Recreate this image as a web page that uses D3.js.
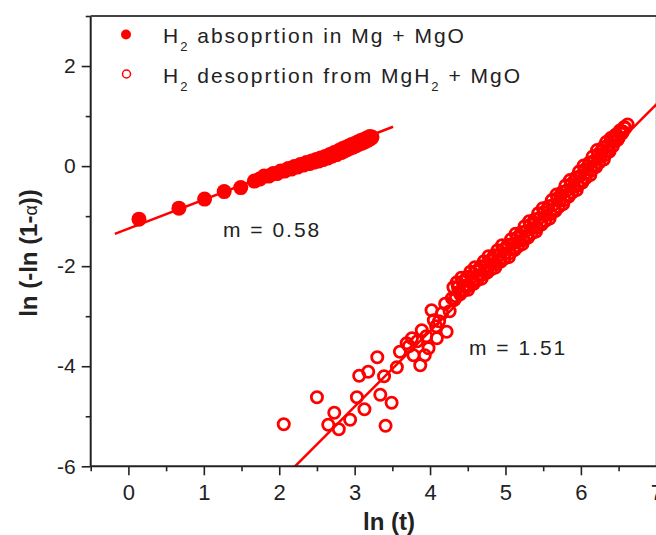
<!DOCTYPE html>
<html>
<head>
<meta charset="utf-8">
<script src="https://cdn.jsdelivr.net/npm/d3@7/dist/d3.min.js"></script>
<style>
  html, body { margin: 0; padding: 0; background: #fff; overflow: hidden; }
  svg { display: block; }
  text { font-family: "Liberation Sans", Arial, sans-serif; fill: #222; }
</style>
</head>
<body>
<svg id="chart" width="656" height="535"></svg>
<script>
// Absorption in Mg + MgO: ln(t) vs ln(-ln(1-alpha))
const absorbLnT = [0.14, 0.67, 1.01, 1.27, 1.49, 1.67, 1.74, 1.80, 1.86, 1.92, 1.97, 2.02, 2.07, 2.12, 2.16,
  2.20, 2.24, 2.28, 2.32, 2.36, 2.40, 2.43, 2.46, 2.49, 2.52, 2.55, 2.58, 2.61, 2.64, 2.67, 2.70, 2.73,
  2.76, 2.79, 2.82, 2.84, 2.86, 2.88, 2.90, 2.92, 2.94, 2.96, 2.98, 3.00, 3.02, 3.04, 3.06, 3.08, 3.10,
  3.12, 3.14, 3.16, 3.18, 3.20, 3.22, 3.23];
const absorbY = [-1.06, -0.84, -0.66, -0.51, -0.43, -0.30, -0.26, -0.20, -0.20, -0.15, -0.15, -0.10, -0.10, -0.05, -0.06,
  -0.01, -0.02, 0.03, 0.02, 0.07, 0.05, 0.10, 0.08, 0.13, 0.10, 0.16, 0.13, 0.19, 0.16, 0.23, 0.20, 0.27,
  0.23, 0.31, 0.27, 0.35, 0.30, 0.37, 0.33, 0.40, 0.36, 0.43, 0.38, 0.45, 0.41, 0.48, 0.44, 0.51, 0.46,
  0.53, 0.49, 0.56, 0.52, 0.59, 0.56, 0.58];

// Desorption from MgH2 + MgO
const desorbLnT = [2.06, 2.50, 2.65, 2.73, 2.79, 2.94, 3.03, 3.06, 3.13, 3.18, 3.30, 3.34, 3.39, 3.41, 3.49,
  3.56, 3.60, 3.69, 3.72, 3.76, 3.78, 3.83, 3.87, 3.89, 3.93, 3.95, 3.98, 4.02, 4.05, 4.08, 4.09, 4.12,
  4.16, 4.20, 4.22, 4.26, 4.29,
  4.31, 4.34, 4.37, 4.40, 4.43, 4.46, 4.49, 4.52, 4.55, 4.58, 4.61, 4.64, 4.67, 4.70, 4.73, 4.76, 4.79,
  4.82, 4.85, 4.88, 4.91, 4.94, 4.97, 5.00, 5.03, 5.06, 5.09, 5.12, 5.15, 5.18, 5.21, 5.24, 5.27, 5.30,
  5.33, 5.36, 5.39, 5.42, 5.45, 5.48, 5.51, 5.54, 5.57, 5.60, 5.63, 5.66, 5.69, 5.72, 5.75, 5.78, 5.81,
  5.84, 5.87, 5.90, 5.93, 5.96, 5.99, 6.02, 6.05, 6.08, 6.11, 6.14, 6.17, 6.20, 6.23, 6.26, 6.29, 6.32,
  6.35, 6.38, 6.41, 6.44, 6.47, 6.50, 6.53, 6.56, 6.59, 6.62,
  4.325, 4.355, 4.385, 4.415, 4.445, 4.475, 4.505, 4.535, 4.565, 4.595, 4.625, 4.655, 4.685, 4.715, 4.745,
  4.775, 4.805, 4.835, 4.865, 4.895, 4.925, 4.955, 4.985, 5.015, 5.045, 5.075, 5.105, 5.135, 5.165, 5.195,
  5.225, 5.255, 5.285, 5.315, 5.345, 5.375, 5.405, 5.435, 5.465, 5.495, 5.525, 5.555, 5.585, 5.615, 5.645,
  5.675, 5.705, 5.735, 5.765, 5.795, 5.825, 5.855, 5.885, 5.915, 5.945, 5.975, 6.005, 6.035, 6.065, 6.095,
  6.125, 6.155, 6.185, 6.215, 6.245, 6.275, 6.305, 6.335, 6.365, 6.395, 6.425, 6.455, 6.485, 6.515, 6.545,
  6.575];
const desorbY = [-5.16, -4.62, -5.17, -4.93, -5.26, -5.07, -4.62, -4.19, -4.86, -4.11, -3.82, -4.57, -4.20, -5.19, -4.73,
  -4.02, -3.71, -3.54, -3.60, -3.44, -3.78, -3.50, -3.98, -3.28, -3.78, -3.40, -3.64, -2.88, -3.08, -3.20, -3.44, -3.10,
  -2.94, -2.75, -3.31, -2.90, -2.64,
  -2.42, -2.60, -2.42, -2.56, -2.31, -2.39, -2.21, -2.39, -2.22, -2.35, -2.10, -2.18, -2.00, -2.17, -2.00, -2.13, -1.89,
  -1.96, -1.78, -1.96, -1.78, -1.91, -1.67, -1.74, -1.57, -1.74, -1.56, -1.68, -1.43, -1.50, -1.32, -1.48, -1.30, -1.43,
  -1.17, -1.24, -1.06, -1.23, -1.04, -1.17, -0.92, -0.98, -0.80, -0.96, -0.78, -0.90, -0.64, -0.70, -0.52, -0.68, -0.49,
  -0.61, -0.36, -0.42, -0.23, -0.39, -0.20, -0.33, -0.07, -0.13, 0.07, -0.09, 0.10, -0.02, 0.24, 0.18, 0.37, 0.22,
  0.41, 0.29, 0.55, 0.49, 0.63, 0.56, 0.70, 0.69, 0.76, 0.83,
  -2.67, -2.32, -2.51, -2.23, -2.49, -2.27, -2.47, -2.11, -2.31, -2.02, -2.28, -2.06, -2.25, -1.90, -2.09,
  -1.80, -2.07, -1.84, -2.03, -1.68, -1.87, -1.58, -1.85, -1.62, -1.82, -1.46, -1.65, -1.35, -1.61, -1.38,
  -1.56, -1.20, -1.39, -1.10, -1.35, -1.12, -1.31, -0.94, -1.13, -0.84, -1.10, -0.86, -1.05, -0.68, -0.86,
  -0.57, -0.82, -0.58, -0.76, -0.39, -0.58, -0.28, -0.53, -0.29, -0.48, -0.11, -0.29, 0.01, -0.24, 0.00,
  -0.18, 0.19, 0.02, 0.32, 0.07, 0.31, 0.13, 0.48, 0.32, 0.56, 0.40, 0.62, 0.52, 0.71, 0.65,
  0.78];

// Linear fits: slope m, intercept b, and x extent
const absorbFit = { m: 0.58, b: -1.25, x0: -0.18, x1: 3.51 };
const desorbFit = { m: 1.51, b: -9.337, x0: 2.0, x1: 7.2 };

const xMajor = [0, 1, 2, 3, 4, 5, 6, 7];
const xMinor = [-0.5, 0.5, 1.5, 2.5, 3.5, 4.5, 5.5, 6.5];
const yMajor = [-6, -4, -2, 0, 2];
const yMinor = [-5, -3, -1, 1, 3];

const legendLabels = ["absoprtion in Mg + MgO", "desoprtion from MgH", " + MgO"];
const slopeLabels = ["m = 0.58", "m = 1.51"];

const RED = "#ff0000";
const svg = d3.select("#chart");

const x = d3.scaleLinear().domain([-0.5, 7]).range([90.7, 656.3]);
const y = d3.scaleLinear().domain([-6, 3]).range([466.3, 16]);

// clip region for the fit lines
svg.append("clipPath").attr("id", "plotClip")
  .append("rect").attr("x", x(-0.5)).attr("y", y(3))
  .attr("width", x(7) - x(-0.5)).attr("height", y(-6) - y(3));

// right frame edge
svg.append("line")
  .attr("x1", 655.5).attr("x2", 655.5).attr("y1", y(3)).attr("y2", y(-6))
  .attr("stroke", "#d8d8d8").attr("stroke-width", 1);

// fit lines
const fitLine = d3.line().x(d => x(d[0])).y(d => y(d[1]));
[absorbFit, desorbFit].forEach(f => {
  svg.append("path")
    .attr("d", fitLine([[f.x0, f.m * f.x0 + f.b], [f.x1, f.m * f.x1 + f.b]]))
    .attr("clip-path", "url(#plotClip)")
    .attr("stroke", RED).attr("stroke-width", 2.5).attr("fill", "none");
});

// absorption: filled circles
svg.append("g").selectAll("circle")
  .data(absorbLnT.map((v, i) => [v, absorbY[i]]))
  .join("circle")
  .attr("cx", d => x(d[0])).attr("cy", d => y(d[1])).attr("r", 7.5)
  .attr("fill", RED);

// desorption: open circles
svg.append("g").selectAll("circle")
  .data(desorbLnT.map((v, i) => [v, desorbY[i]]))
  .join("circle")
  .attr("cx", d => x(d[0])).attr("cy", d => y(d[1])).attr("r", 5.6)
  .attr("fill", "none").attr("stroke", RED).attr("stroke-width", 2.8);

// axes
const axisColor = "#222";
function styleAxis(g) {
  g.select(".domain").remove();
  g.selectAll(".tick line").attr("stroke", axisColor).attr("stroke-width", 1.6);
}

const xAxisG = svg.append("g").attr("transform", `translate(0,${y(-6)})`)
  .call(d3.axisBottom(x).tickValues(xMajor).tickSize(9).tickPadding(9).tickFormat(d3.format("d")));
styleAxis(xAxisG);
xAxisG.selectAll("text").attr("font-size", 22).attr("fill", "#222")
  .attr("font-family", "'Liberation Sans', Arial, sans-serif");

const xMinorG = svg.append("g").attr("transform", `translate(0,${y(-6)})`)
  .call(d3.axisBottom(x).tickValues(xMinor).tickSize(5).tickFormat(""));
styleAxis(xMinorG);

const yAxisG = svg.append("g").attr("transform", `translate(${x(-0.5)},0)`)
  .call(d3.axisLeft(y).tickValues(yMajor).tickSize(9).tickPadding(6).tickFormat(d => d < 0 ? "-" + Math.abs(d) : String(d)));
styleAxis(yAxisG);
yAxisG.selectAll("text").attr("font-size", 21).attr("fill", "#222")
  .attr("font-family", "'Liberation Sans', Arial, sans-serif");

const yMinorG = svg.append("g").attr("transform", `translate(${x(-0.5)},0)`)
  .call(d3.axisLeft(y).tickValues(yMinor).tickSize(5).tickFormat(""));
styleAxis(yMinorG);

// frame lines: bottom, left, top
svg.append("line").attr("x1", x(-0.5)).attr("x2", 656).attr("y1", y(-6)).attr("y2", y(-6))
  .attr("stroke", axisColor).attr("stroke-width", 2);
svg.append("line").attr("x1", x(-0.5)).attr("x2", x(-0.5)).attr("y1", y(3)).attr("y2", y(-6))
  .attr("stroke", axisColor).attr("stroke-width", 2);
svg.append("line").attr("x1", x(-0.5)).attr("x2", 656).attr("y1", y(3)).attr("y2", y(3))
  .attr("stroke", "#444").attr("stroke-width", 1.8);

// axis titles
svg.append("text").attr("x", 389).attr("y", 530).attr("text-anchor", "middle")
  .attr("font-size", 24).attr("font-weight", "bold").attr("fill", "#111").text("ln (t)");

const yt = svg.append("text").attr("transform", "translate(37,253) rotate(-90)")
  .attr("text-anchor", "middle").attr("font-size", 24).attr("font-weight", "bold").attr("fill", "#111");
yt.append("tspan").text("ln (-ln (1-");
yt.append("tspan").attr("font-weight", "normal").attr("font-size", 18).text("α");
yt.append("tspan").text("))");

// legend
const legend = svg.append("g");
legend.append("circle").attr("cx", 126).attr("cy", 34.5).attr("r", 5).attr("fill", RED);
legend.append("circle").attr("cx", 126.5).attr("cy", 74).attr("r", 4)
  .attr("fill", "none").attr("stroke", RED).attr("stroke-width", 1.5);

function legendRow(yBase, parts) {
  const t = legend.append("text").attr("x", 163).attr("y", yBase)
    .attr("font-size", 21).attr("letter-spacing", 2);
  t.append("tspan").text("H");
  t.append("tspan").attr("font-size", 13).attr("dy", 8).text("2");
  t.append("tspan").attr("dy", -8).text(" " + parts[0]);
  if (parts.length > 1) {
    t.append("tspan").attr("font-size", 13).attr("dy", 8).text("2");
    t.append("tspan").attr("dy", -8).text(parts[1]);
  }
}
legendRow(43, [legendLabels[0]]);
legendRow(83, [legendLabels[1], legendLabels[2]]);

// slope annotations
svg.append("text").attr("x", 223).attr("y", 237).attr("font-size", 21).attr("letter-spacing", 2)
  .text(slopeLabels[0]);
svg.append("text").attr("x", 469).attr("y", 355).attr("font-size", 21).attr("letter-spacing", 2)
  .text(slopeLabels[1]);
</script>
</body>
</html>
